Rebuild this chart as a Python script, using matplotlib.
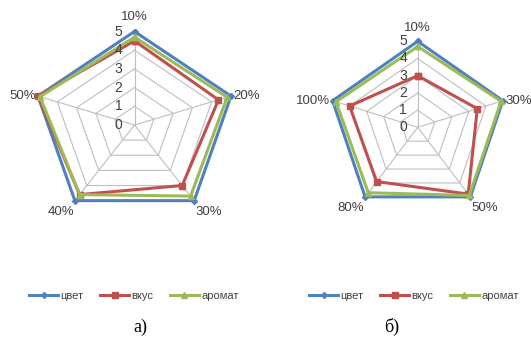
import matplotlib
matplotlib.use("Agg")
import matplotlib.pyplot as plt
import numpy as np

W, H = 531, 342

# chart а)
cats_a = ["10%", "20%", "30%", "40%", "50%"]
color_a = [5, 5, 5, 5, 5]
taste_a = [4.5, 4.35, 4.0, 4.6, 5.0]
aroma_a = [4.7, 4.8, 4.7, 4.6, 4.9]

# chart б)
cats_b = ["10%", "30%", "50%", "80%", "100%"]
color_b = [5, 5, 5, 5, 5]
taste_b = [3.0, 3.5, 4.8, 3.9, 4.0]
aroma_b = [4.7, 4.9, 4.9, 4.7, 4.8]

series_names = ["цвет", "вкус", "аромат"]
ticks = [0, 1, 2, 3, 4, 5]

COLORS = ["#4F81BD", "#C0504D", "#9BBB59"]
MARKERS = ["D", "s", "^"]
MSIZES = [3, 5, 5]
GRID = "#BFBFBF"
TXT = "#404040"

plt.rcParams["font.family"] = ["Liberation Sans", "DejaVu Sans"]


def make_axes(fig, cx, cy, sx, sy, xlim, ylim):
    # place axes so that one value unit = sx/sy pixels around centre (cx, cy)
    left = cx + xlim[0] * sx
    right = cx + xlim[1] * sx
    top = cy - ylim[1] * sy
    bottom = cy - ylim[0] * sy
    ax = fig.add_axes([left / W, 1 - bottom / H, (right - left) / W, (bottom - top) / H])
    ax.set_xlim(*xlim)
    ax.set_ylim(*ylim)
    ax.axis("off")
    return ax


def radar(ax, cats, data, lx, ly):
    n = len(cats)
    ang = np.deg2rad(90 - 72 * np.arange(n))
    ca, sa = np.cos(ang), np.sin(ang)
    closed = lambda a: np.append(a, a[0])

    for r in ticks[1:]:
        ax.plot(closed(r * ca), closed(r * sa), color=GRID, lw=0.8, zorder=1)
    for c, s in zip(ca, sa):
        ax.plot([0, 5 * c], [0, 5 * s], color=GRID, lw=0.8, zorder=1)

    for i, vals in enumerate(data):
        v = np.array(vals, dtype=float)
        ax.plot(closed(v * ca), closed(v * sa), color=COLORS[i], lw=2.2,
                marker=MARKERS[i], ms=MSIZES[i], label=series_names[i], zorder=3 + i)

    for t in ticks:
        ax.text(-0.6, t, str(t), ha="right", va="center", fontsize=10, color=TXT, zorder=10)

    for c, s, lab in zip(ca, sa, cats):
        if s > 0.9:
            ax.text(0, 5.45, lab, ha="center", va="bottom", fontsize=9.5, color=TXT)
        elif s > 0:
            ha = "left" if c > 0 else "right"
            ax.text(5 * c + 0.12 * np.sign(c), 5 * s, lab, ha=ha, va="center",
                    fontsize=9.5, color=TXT)
        else:
            ha = "left" if c > 0 else "right"
            ax.text(5 * c + 0.05 * np.sign(c), 5 * s - 0.3, lab, ha=ha, va="top",
                    fontsize=9.5, color=TXT)

    ax.legend(loc="center", bbox_to_anchor=(lx, ly), bbox_transform=ax.figure.transFigure,
              ncol=3, frameon=False, fontsize=8, handlelength=2.6, columnspacing=1.5,
              handletextpad=0.2, labelcolor=TXT)


fig = plt.figure(figsize=(W / 100, H / 100), dpi=100)

ax_a = make_axes(fig, 134.5, 125, 20.3, 18.7, (-6.5, 6.5), (-5.5, 6.3))
radar(ax_a, cats_a, [color_a, taste_a, aroma_a], 134 / W, 1 - 296 / H)

ax_b = make_axes(fig, 417.7, 127.3, 17.9, 17.2, (-6.8, 6.5), (-5.5, 6.5))
radar(ax_b, cats_b, [color_b, taste_b, aroma_b], 414 / W, 1 - 296 / H)

fig.text(140 / W, 1 - 327 / H, "а)", ha="center", va="center", fontsize=13,
         family="Liberation Serif", color="black")
fig.text(392 / W, 1 - 327 / H, "б)", ha="center", va="center", fontsize=13,
         family="Liberation Serif", color="black")

fig.savefig("out.png", dpi=100)
